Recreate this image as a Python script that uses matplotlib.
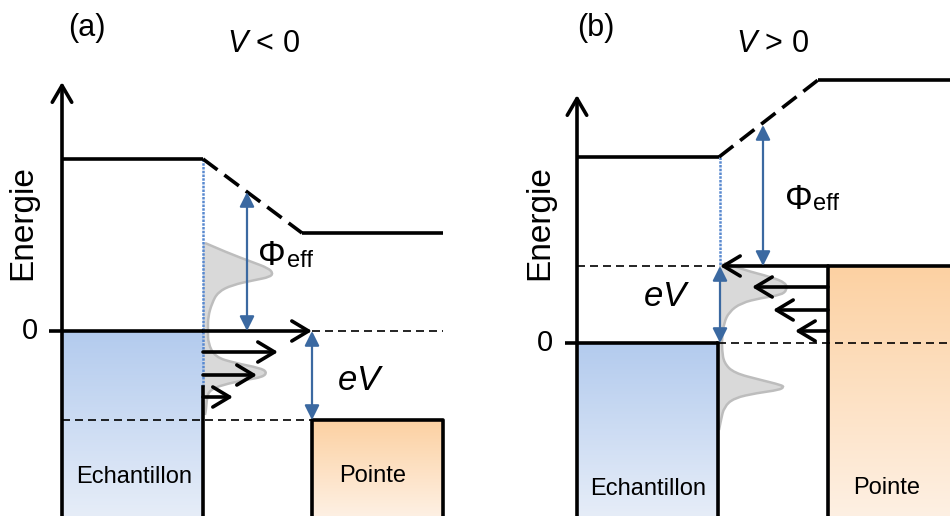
import numpy as np
import matplotlib
matplotlib.use('Agg')
import matplotlib.pyplot as plt
from matplotlib.colors import LinearSegmentedColormap
from matplotlib.path import Path
from matplotlib.patches import PathPatch

plt.rcParams['font.family'] = ['Liberation Sans', 'DejaVu Sans']
plt.rcParams['mathtext.fontset'] = 'custom'
plt.rcParams['mathtext.rm'] = 'Liberation Sans'
plt.rcParams['mathtext.it'] = 'Liberation Sans:italic'

# ---------------- data (energies in arbitrary units, sample Fermi level = 0)
panel_labels = ['(a)', '(b)']
bias_signs = ['<', '>']
region_labels = ['Echantillon', 'Pointe']
axis_label = 'Energie'

# panel (a): V < 0
a_vac_sample = 1.72
a_vac_tip = 0.98
a_fermi_tip = -0.89
a_axis_top = 2.49
a_phi_top = 1.39
a_dotted_bottom = -0.56
a_tunnel_E = [0.0, -0.21, -0.44, -0.66]
a_tunnel_reach = [109, 75, 54, 30]
a_dos_E = [0.88, 0.78, 0.69, 0.63, 0.58, 0.54, 0.51, 0.46, 0.39, 0.28, 0.14, 0.01,
           -0.12, -0.26, -0.32, -0.37, -0.41, -0.46, -0.49, -0.54, -0.59, -0.66, -0.79, -0.84]
a_dos_w = [2, 25, 49, 65, 70, 67, 52, 29, 15, 9, 5, 5,
           5, 12, 32, 57, 64, 60, 42, 19, 7, 4, 3, 2]

# panel (b): V > 0
b_vac_sample = 1.86
b_vac_tip = 2.63
b_fermi_tip = 0.77
b_axis_top = 2.48
b_phi_top = 2.18
b_tunnel_E = [0.77, 0.56, 0.33, 0.12]
b_tunnel_reach = [108, 76, 55, 33]
b_dos_E = [0.80, 0.73, 0.66, 0.60, 0.53, 0.48, 0.45, 0.40, 0.31, 0.20, 0.06, -0.07,
           -0.20, -0.30, -0.37, -0.42, -0.44, -0.47, -0.50, -0.55, -0.64, -0.77, -0.87]
b_dos_w = [5, 25, 52, 67, 68, 62, 42, 22, 10, 5, 3, 3,
           5, 15, 42, 62, 65, 60, 38, 15, 5, 2, 0]

# ---------------- layout / style
W, H = 950, 516
BLACK = 'black'
BLUE = '#3b69a1'
DOTTED = '#5a8ad0'
DOS_FILL = '#d9d9d9'
DOS_EDGE = '#bdbdbd'
blue_cmap = LinearSegmentedColormap.from_list('bl', ['#b3cbee', '#e6edf8'])
orange_cmap = LinearSegmentedColormap.from_list('or', ['#fcd1a2', '#fef0e3'])
LW = 2.6
THIN = 1.2

fig = plt.figure(figsize=(W / 100, H / 100), dpi=100)
ax_a = fig.add_axes([0, 0, 1, 1])
ax_b = fig.add_axes([0, 0, 1, 1])
ax_b.patch.set_alpha(0)
# energy scale: 100 px per unit, zero line at pixel row 331 (a) and 343 (b)
ax_a.set_ylim((331 - H) / 100, 331 / 100)
ax_b.set_ylim((343 - H) / 100, 343 / 100)
for ax in (ax_a, ax_b):
    ax.set_xlim(0, W)
    ax.axis('off')


def grad(ax, cmap, x0, x1, y0, y1):
    g = np.linspace(0, 1, 256).reshape(-1, 1)
    ax.imshow(g, cmap=cmap, extent=[x0, x1, y0, y1], aspect='auto',
              origin='upper', zorder=0, interpolation='bilinear')


def arrow(ax, x0, y0, x1, y1, color=BLACK, lw=LW, style='->', hl=0.6, hw=0.36, ms=20, z=5):
    ax.annotate('', xy=(x1, y1), xytext=(x0, y0),
                arrowprops=dict(arrowstyle=f'{style},head_length={hl},head_width={hw}',
                                color=color, lw=lw, shrinkA=0, shrinkB=0,
                                mutation_scale=ms), zorder=z)


def blue_arrow(ax, x, y0, y1):
    arrow(ax, x, y0, x, y1, color=BLUE, lw=1.6, style='<|-|>', hl=0.8, hw=0.4, ms=11, z=6)


def smooth_path(xs, ys):
    # quadratic Bezier through midpoints of the read-off outline points
    pts = np.column_stack([xs, ys])
    verts = [pts[0]]
    codes = [Path.MOVETO]
    for i in range(1, len(pts) - 1):
        mid = (pts[i] + pts[i + 1]) / 2
        verts += [pts[i], mid]
        codes += [Path.CURVE3, Path.CURVE3]
    verts.append(pts[-1])
    codes.append(Path.LINETO)
    return verts, codes


def draw_dos(ax, surf_x, dos_E, dos_w):
    xs = surf_x + np.array(dos_w, dtype=float)
    ys = np.array(dos_E, dtype=float)
    verts, codes = smooth_path(xs, ys)
    fill_verts = verts + [(surf_x, ys[-1]), (surf_x, ys[0]), verts[0]]
    fill_codes = codes + [Path.LINETO, Path.LINETO, Path.CLOSEPOLY]
    ax.add_patch(PathPatch(Path(fill_verts, fill_codes), facecolor=DOS_FILL,
                           edgecolor='none', zorder=1))
    ax.add_patch(PathPatch(Path(verts, codes), facecolor='none', edgecolor=DOS_EDGE,
                           lw=1.8, zorder=1.5))


def draw_panel(ax, axis_x, surf_x, tip_x, right_x, bar_end_x, vac_s, vac_t,
               fermi_t, axis_top, dos_E, dos_w):
    ybot = ax.get_ylim()[0]
    grad(ax, blue_cmap, axis_x, surf_x, ybot, 0.0)
    grad(ax, orange_cmap, tip_x, right_x, ybot, fermi_t)
    draw_dos(ax, surf_x, dos_E, dos_w)
    arrow(ax, axis_x, ybot, axis_x, axis_top, lw=LW, hl=0.6, hw=0.35, ms=20)
    ax.plot([axis_x, surf_x], [vac_s, vac_s], color=BLACK, lw=LW, solid_capstyle='butt', zorder=4)
    ax.plot([surf_x, bar_end_x], [vac_s, vac_t], color=BLACK, lw=LW,
            linestyle=(0, (5.0, 2.4)), zorder=4)
    ax.plot([bar_end_x, right_x], [vac_t, vac_t], color=BLACK, lw=LW, solid_capstyle='butt', zorder=4)
    ax.plot([tip_x, tip_x, right_x, right_x], [ybot, fermi_t, fermi_t, ybot],
            color=BLACK, lw=LW, zorder=4)
    return ybot


# ---------------- panel (a)
ybot = draw_panel(ax_a, 62, 203, 312, 443, 302, a_vac_sample, a_vac_tip, a_fermi_tip,
                  a_axis_top, a_dos_E, a_dos_w)
ax_a.plot([203, 203], [a_vac_sample, a_dotted_bottom], color=DOTTED, lw=1.8,
          linestyle=(0, (1, 0.5)), zorder=3)
ax_a.plot([203, 203], [a_dotted_bottom, ybot], color=BLACK, lw=LW, zorder=4)
ax_a.plot([49, 203], [0, 0], color=BLACK, lw=LW, solid_capstyle='butt', zorder=4)
ax_a.plot([312, 443], [0, 0], color=BLACK, lw=THIN, linestyle=(0, (4.8, 3)), zorder=3)
ax_a.plot([62, 312], [a_fermi_tip, a_fermi_tip], color=BLACK, lw=THIN,
          linestyle=(0, (4.8, 3)), zorder=3)
for e, r in zip(a_tunnel_E, a_tunnel_reach):
    arrow(ax_a, 203, e, 203 + r, e)
blue_arrow(ax_a, 312, 0, a_fermi_tip)
blue_arrow(ax_a, 247, a_phi_top, 0)

# ---------------- panel (b)
ybot = draw_panel(ax_b, 577, 719, 828, 960, 818, b_vac_sample, b_vac_tip, b_fermi_tip,
                  b_axis_top, b_dos_E, b_dos_w)
ax_b.plot([720, 720], [b_vac_sample, b_fermi_tip], color=DOTTED, lw=1.8,
          linestyle=(0, (1, 0.5)), zorder=3)
ax_b.plot([718, 718], [0, ybot], color=BLACK, lw=LW, zorder=4)
ax_b.plot([565, 718], [0, 0], color=BLACK, lw=LW, solid_capstyle='butt', zorder=4)
ax_b.plot([718, 950], [0, 0], color=BLACK, lw=THIN, linestyle=(0, (4.8, 3)), zorder=3)
ax_b.plot([577, 720], [b_fermi_tip, b_fermi_tip], color=BLACK, lw=THIN,
          linestyle=(0, (4.8, 3)), zorder=3)
for e, r in zip(b_tunnel_E, b_tunnel_reach):
    arrow(ax_b, 828, e, 828 - r, e)
blue_arrow(ax_b, 720, b_fermi_tip, 0)
blue_arrow(ax_b, 763, b_phi_top, b_fermi_tip)

# ---------------- texts
def px(x, y):
    return x / W, 1 - y / H

for lab, sign, (lx, ly), (vx, vy) in zip(panel_labels, bias_signs,
                                         [(87, 28), (596, 28)], [(263, 44), (772, 44)]):
    fig.text(*px(lx, ly), lab, fontsize=22, ha='center', va='center')
    fig.text(*px(vx, vy), f'$V$ {sign} 0', fontsize=22, ha='center', va='center')

for ax, ex, ey, zx, s_x, p_x in [(ax_a, 23, 1.08, 30, 134, 373), (ax_b, 540, 1.20, 545, 648, 887)]:
    ax.text(ex, ey, axis_label, fontsize=24, rotation=90, ha='center', va='center')
    ax.text(zx, 0, '0', fontsize=21, ha='center', va='center')
    ax.text(s_x, ybot + 0.27, region_labels[0], fontsize=17, ha='center', va='center', zorder=7)
    ax.text(p_x, ybot + 0.28, region_labels[1], fontsize=17, ha='center', va='center', zorder=7)

ax_a.text(361, -0.50, '$eV$', fontsize=25, ha='center', va='center')
ax_b.text(667, 0.47, '$eV$', fontsize=25, ha='center', va='center')

for ax, x, e in [(ax_a, 286, 0.66), (ax_b, 813, 1.34)]:
    ax.text(x, e, '\u03a6', fontsize=25, ha='right', va='baseline')
    ax.text(x + 0.5, e - 0.015, 'eff', fontsize=17, ha='left', va='baseline')

fig.savefig('out.png', dpi=100)
